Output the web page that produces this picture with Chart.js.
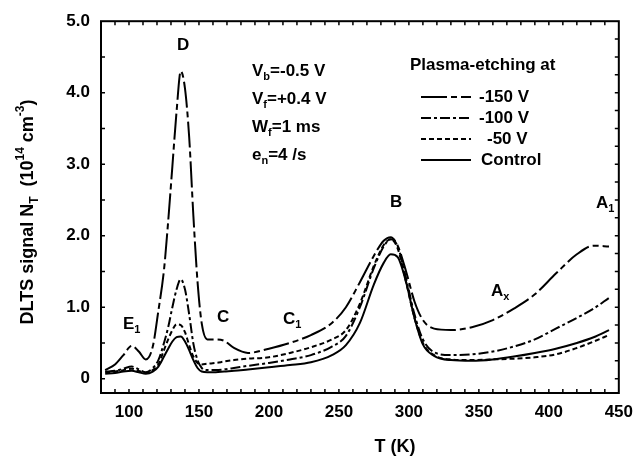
<!DOCTYPE html>
<html>
<head>
<meta charset="utf-8">
<script src="https://cdn.jsdelivr.net/npm/chart.js@4.4.0/dist/chart.umd.min.js"></script>
<style>
  html, body { margin: 0; padding: 0; background: #fff; }
  #wrap { width: 642px; height: 464px; }
</style>
</head>
<body>
<div id="wrap"><canvas id="dltsChart" width="642" height="464"></canvas></div>
<script>
// temperature grid (K), denser near the D peak
const temps = [83, 90, 96, 102, 107, 112, 117, 121, 125, 128, 131, 134, 137, 140, 143, 146, 149, 152, 156, 162, 168, 175, 185, 200, 215, 230, 245, 255, 265, 275, 282, 287, 292, 298, 304, 310, 318, 330, 345, 360, 375, 390, 405, 420, 432, 443];

// DLTS signal (10^14 cm^-3)
const etch150 = [0.12, 0.20, 0.33, 0.46, 0.38, 0.27, 0.45, 0.95, 1.52, 2.20, 2.97, 3.74, 4.30, 4.06, 3.38, 2.28, 1.35, 0.77, 0.55, 0.55, 0.53, 0.43, 0.36, 0.42, 0.50, 0.61, 0.78, 1.00, 1.35, 1.72, 1.93, 1.98, 1.86, 1.50, 1.08, 0.82, 0.70, 0.68, 0.72, 0.82, 0.98, 1.18, 1.47, 1.74, 1.86, 1.85];
const etch100 = [0.10, 0.11, 0.14, 0.17, 0.13, 0.09, 0.15, 0.26, 0.50, 0.72, 1.00, 1.25, 1.39, 1.25, 0.90, 0.49, 0.26, 0.15, 0.12, 0.12, 0.13, 0.15, 0.18, 0.22, 0.27, 0.33, 0.45, 0.60, 1.00, 1.55, 1.85, 1.95, 1.85, 1.40, 0.90, 0.55, 0.37, 0.33, 0.34, 0.38, 0.45, 0.55, 0.70, 0.85, 0.98, 1.13];
const etch50 = [0.09, 0.10, 0.12, 0.14, 0.11, 0.08, 0.12, 0.20, 0.40, 0.55, 0.68, 0.76, 0.75, 0.65, 0.47, 0.31, 0.22, 0.20, 0.21, 0.22, 0.24, 0.26, 0.28, 0.30, 0.36, 0.44, 0.55, 0.68, 1.05, 1.58, 1.87, 1.95, 1.82, 1.35, 0.85, 0.50, 0.33, 0.27, 0.26, 0.27, 0.28, 0.30, 0.34, 0.43, 0.52, 0.61];
const control = [0.07, 0.08, 0.10, 0.11, 0.09, 0.07, 0.10, 0.17, 0.31, 0.42, 0.52, 0.58, 0.59, 0.52, 0.40, 0.26, 0.15, 0.10, 0.09, 0.09, 0.10, 0.11, 0.13, 0.16, 0.19, 0.23, 0.33, 0.47, 0.78, 1.32, 1.62, 1.74, 1.70, 1.35, 0.85, 0.48, 0.32, 0.26, 0.25, 0.27, 0.31, 0.36, 0.42, 0.50, 0.58, 0.68];

const xTicks = [100, 150, 200, 250, 300, 350, 400, 450];
const yTicks = [0, 1, 2, 3, 4, 5];
const seriesNames = ['-150 V', '-100 V', '-50 V', 'Control'];

const FONT = '"Liberation Sans", Arial, sans-serif';

function pts(vals) {
    return temps.map((t, i) => ({ x: t, y: vals[i] }));
}

function makeSet(label, vals, dash) {
    return {
        label: label,
        data: pts(vals),
        borderColor: '#000',
        borderWidth: 2,
        borderDash: dash,
        pointRadius: 0,
        fill: false,
        cubicInterpolationMode: 'monotone'
    };
}

// draw text with sub/superscript pieces: [text, 'n' | 'sub' | 'sup']
function richWidth(ctx, parts, size) {
    let w = 0;
    parts.forEach(p => {
        const s = p[1] === 'n' ? size : Math.round(size * 0.65);
        ctx.font = 'bold ' + s + 'px ' + FONT;
        w += ctx.measureText(p[0]).width;
    });
    return w;
}

function drawRich(ctx, parts, x, y, size) {
    ctx.textAlign = 'left';
    ctx.textBaseline = 'middle';
    parts.forEach(p => {
        let s = size, dy = 0;
        if (p[1] === 'sub') { s = Math.round(size * 0.65); dy = size * 0.38; }
        if (p[1] === 'sup') { s = Math.round(size * 0.65); dy = -size * 0.42; }
        ctx.font = 'bold ' + s + 'px ' + FONT;
        ctx.fillText(p[0], x, y + dy);
        x += ctx.measureText(p[0]).width;
    });
}

const decorPlugin = {
    id: 'decor',
    afterDraw(chart) {
        const ctx = chart.ctx;
        const a = chart.chartArea;
        const xs = chart.scales.x, ys = chart.scales.y;
        ctx.save();
        ctx.strokeStyle = '#000';
        ctx.fillStyle = '#000';
        ctx.setLineDash([]);

        // frame
        ctx.lineWidth = 2;
        ctx.strokeRect(a.left, a.top, a.right - a.left, a.bottom - a.top);

        // inward ticks
        ctx.lineWidth = 1.5;
        ctx.beginPath();
        for (let t = 90; t < 450; t += 10) {
            const px = xs.getPixelForValue(t);
            ctx.moveTo(px, a.bottom); ctx.lineTo(px, a.bottom - 4);
            ctx.moveTo(px, a.top); ctx.lineTo(px, a.top + 4);
        }
        for (let v = 0; v < 5; v += 0.5) {
            const py = ys.getPixelForValue(v);
            ctx.moveTo(a.left, py); ctx.lineTo(a.left + 4, py);
        }
        for (let v = 0; v < 5; v += 0.25) {
            const py = ys.getPixelForValue(v);
            ctx.moveTo(a.right, py); ctx.lineTo(a.right - 4, py);
        }
        ctx.stroke();

        // axis titles
        ctx.font = 'bold 18px ' + FONT;
        ctx.textAlign = 'center';
        ctx.textBaseline = 'middle';
        ctx.fillText('T (K)', 395, 447);

        const yTitle = [['DLTS signal N', 'n'], ['T', 'sub'], ['  (10', 'n'], ['14', 'sup'], [' cm', 'n'], ['-3', 'sup'], [')', 'n']];
        const w = richWidth(ctx, yTitle, 18);
        ctx.save();
        ctx.translate(28, 212);
        ctx.rotate(-Math.PI / 2);
        drawRich(ctx, yTitle, -w / 2, 0, 18);
        ctx.restore();

        // measurement conditions
        drawRich(ctx, [['V', 'n'], ['b', 'sub'], ['=-0.5 V', 'n']], 252, 71, 17);
        drawRich(ctx, [['V', 'n'], ['f', 'sub'], ['=+0.4 V', 'n']], 252, 99, 17);
        drawRich(ctx, [['W', 'n'], ['f', 'sub'], ['=1 ms', 'n']], 252, 127, 17);
        drawRich(ctx, [['e', 'n'], ['n', 'sub'], ['=4 /s', 'n']], 252, 155, 17);

        // peak labels
        drawRich(ctx, [['D', 'n']], 177, 45, 17);
        drawRich(ctx, [['E', 'n'], ['1', 'sub']], 123, 324, 17);
        drawRich(ctx, [['C', 'n']], 217, 317, 17);
        drawRich(ctx, [['C', 'n'], ['1', 'sub']], 283, 319, 17);
        drawRich(ctx, [['B', 'n']], 390, 202, 17);
        drawRich(ctx, [['A', 'n'], ['x', 'sub']], 491, 291, 17);
        drawRich(ctx, [['A', 'n'], ['1', 'sub']], 596, 203, 17);

        // legend
        drawRich(ctx, [['Plasma-etching at', 'n']], 410, 65, 17);
        const rows = [97, 118, 139, 160];
        const textX = [479, 479, 487, 481];
        chart.data.datasets.forEach((ds, i) => {
            ctx.lineWidth = 2;
            ctx.setLineDash(ds.borderDash || []);
            ctx.beginPath();
            ctx.moveTo(421, rows[i]);
            ctx.lineTo(471, rows[i]);
            ctx.stroke();
            ctx.setLineDash([]);
            drawRich(ctx, [[seriesNames[i], 'n']], textX[i], rows[i], 17);
        });
        ctx.restore();
    }
};

const ctx = document.getElementById('dltsChart').getContext('2d');
new Chart(ctx, {
    type: 'line',
    data: {
        datasets: [
            makeSet(seriesNames[0], etch150, [26, 4, 6, 4]),
            makeSet(seriesNames[1], etch100, [10, 3, 3, 3]),
            makeSet(seriesNames[2], etch50, [5, 3]),
            makeSet(seriesNames[3], control, [])
        ]
    },
    options: {
        responsive: false,
        animation: false,
        devicePixelRatio: 1,
        layout: { padding: { top: 16, right: 16, left: 0, bottom: 0 } },
        plugins: {
            legend: { display: false },
            tooltip: { enabled: false }
        },
        scales: {
            x: {
                type: 'linear',
                min: 80,
                max: 450,
                afterBuildTicks: s => { s.ticks = xTicks.map(v => ({ value: v })); },
                afterFit: s => { s.height = 71; },
                grid: { display: false, drawTicks: false },
                border: { display: false },
                ticks: {
                    color: '#000',
                    font: { family: FONT, size: 17, weight: 'bold' },
                    padding: 9,
                    maxRotation: 0,
                    autoSkip: false
                }
            },
            y: {
                type: 'linear',
                min: -0.2,
                max: 5.0,
                afterBuildTicks: s => { s.ticks = yTicks.map(v => ({ value: v })); },
                afterFit: s => { s.width = 101; },
                grid: { display: false, drawTicks: false },
                border: { display: false },
                ticks: {
                    color: '#000',
                    font: { family: FONT, size: 17, weight: 'bold' },
                    padding: 11,
                    callback: v => v === 0 ? '0' : v.toFixed(1)
                }
            }
        }
    },
    plugins: [decorPlugin]
});
</script>
</body>
</html>
